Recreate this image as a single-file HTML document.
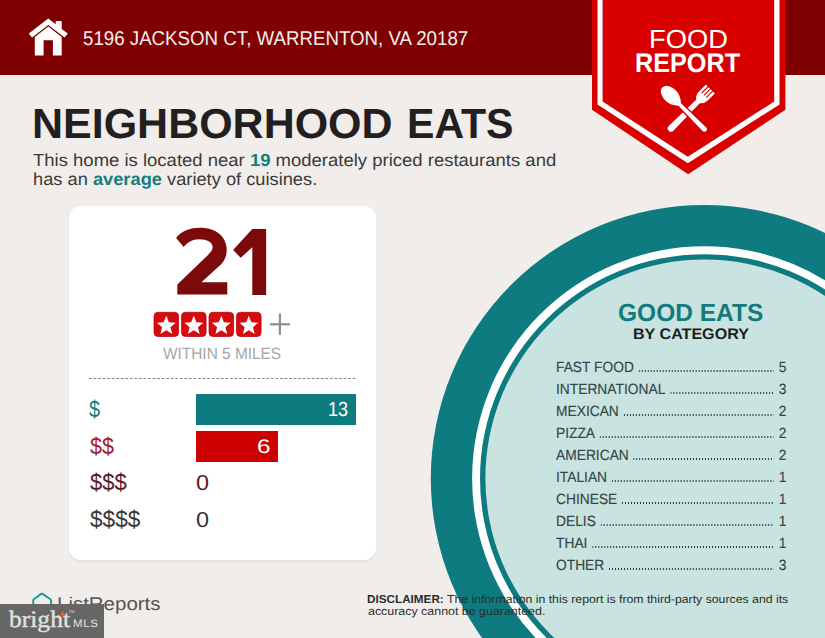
<!DOCTYPE html>
<html><head><meta charset="utf-8">
<style>
*{margin:0;padding:0;box-sizing:border-box}
html,body{width:825px;height:638px;overflow:hidden;background:#f0edea;font-family:"Liberation Sans",sans-serif;text-rendering:geometricPrecision}
.a{position:absolute;white-space:nowrap;line-height:1;transform-origin:0 0}
#hdr{position:absolute;left:0;top:0;width:825px;height:75px;background:#7f0000}
#addr{color:#f6eeee}
.tt{font-weight:bold;color:#231f20}
#para1,#para2{color:#3a3a3a}
#para1 b,#para2 b{color:#137f80}
#card{position:absolute;left:69px;top:206px;width:307px;height:354px;background:#fff;border-radius:12px;box-shadow:0 1.5px 2px rgba(0,0,0,0.05)}
.n21{font-weight:bold;color:#7d0a0a}
#within{color:#a6a6a6}
#dash{position:absolute;left:88.5px;top:378px;width:268px;height:1.2px;background:linear-gradient(to right,#858585 56%,transparent 56%);background-size:4.55px 1.2px}
.bar{position:absolute;left:196px;height:31px}
.barn{color:#fff}
#good{font-weight:bold;color:#137a7e}
#bycat{font-weight:bold;color:#1e1e1e}
.row{position:absolute;white-space:nowrap;line-height:1;transform-origin:0 0;color:#344646;display:flex;align-items:flex-start;-webkit-text-stroke:0.15px #344646}
.lead{flex:1;height:1.5px;background:linear-gradient(to right,#263838 45%,transparent 45%);background-size:3.23px 1.5px}
.dd,#disc2{color:#2d2d2d}
#food{color:#fff}
#report{color:#fff;font-weight:bold}
#lr{color:#555}
#bright{position:absolute;left:0;top:604px;width:103.5px;height:34px;background:#666}
</style></head>
<body>
<div id="hdr"></div>
<svg style="position:absolute;left:0;top:0" width="825" height="638" viewBox="0 0 825 638">
  <path fill="#fff" d="M28.8 33.6 L48.3 18.6 L55.7 24.3 L55.7 21 L61.7 21 L61.7 28.9 L67.8 33.6 L64.6 37.6 L48.3 25 L32 37.6 Z"/>
  <path fill="#fff" d="M34.8 37 L48.3 26.5 L61.7 37 L61.7 55.5 L52.9 55.5 L52.9 40.2 L43.6 40.2 L43.6 55.5 L34.8 55.5 Z"/>
  <polygon fill="#d90000" points="592,0 785.4,0 785.4,109.8 688.2,174.2 592,109.8"/>
  <polygon fill="#fff" points="597.5,0 779.5,0 779.5,104.4 687.8,163.3 597.5,104.4"/>
  <polygon fill="#d90000" points="602.6,0 774.2,0 774.2,101.6 687.8,156.7 602.6,101.6"/>
  <g transform="translate(710.3 89.05) rotate(45)" fill="#fff">
    <path d="M-6.3 0.6 Q-6.3 0 -5.7 0 L5.7 0 Q6.3 0 6.3 0.6 L6.3 9.5 Q6.3 14.5 2.5 17.5 L3.3 55.5 A3.3 3.3 0 0 1 -3.3 55.5 L-2.5 17.5 Q-6.3 14.5 -6.3 9.5 Z"/>
    <rect x="-3.75" y="-0.5" width="1.2" height="9.5" fill="#d90000"/>
    <rect x="-0.6" y="-0.5" width="1.2" height="9.5" fill="#d90000"/>
    <rect x="2.55" y="-0.5" width="1.2" height="9.5" fill="#d90000"/>
  </g>
  <g transform="translate(671.3 96.15) rotate(-45)" fill="#fff" stroke="#d90000" stroke-width="1.4">
    <path d="M0 -13.2 C5.6 -13.2 8.2 -6.2 8 0 C7.8 5.6 4.8 9.6 2.5 12.2 L3.3 46.8 A3.3 3.3 0 0 1 -3.3 46.8 L-2.5 12.2 C-4.8 9.6 -7.8 5.6 -8 0 C-8.2 -6.2 -5.6 -13.2 0 -13.2 Z"/>
  </g>
  <circle cx="704.3" cy="478.5" r="273.5" fill="#0e7b80"/>
  <circle cx="704.3" cy="478.5" r="232.2" fill="#fff"/>
  <circle cx="704.3" cy="478.5" r="224.3" fill="#0e7b80"/>
  <circle cx="704.3" cy="478.5" r="218.9" fill="#c8e3e0"/>
</svg>
<div id="addr" class="a" style="left:82.88px;top:29.20px;font-size:20.06px;transform:scaleX(0.9328)">5196 JACKSON CT, WARRENTON, VA 20187</div>
<div id="food" class="a" style="left:648.76px;top:25.87px;font-size:26.31px;transform:scaleX(1.0389)">FOOD</div>
<div id="report" class="a" style="left:635.20px;top:50.00px;font-size:27.03px;transform:scaleX(0.9332)">REPORT</div>
<div id="title" class="a tt" style="left:32.30px;top:102.56px;font-size:42.01px;transform:scaleX(1.0234)">NEIGHBORHOOD</div><div id="title2" class="a tt" style="left:406.55px;top:102.51px;font-size:42.01px;transform:scaleX(0.9781)">EATS</div>
<div id="para1" class="a" style="left:32.80px;top:152.44px;font-size:17.44px;transform:scaleX(1.0605)">This home is located near <b>19</b> moderately priced restaurants and</div>
<div id="para2" class="a" style="left:33.07px;top:170.94px;font-size:17.44px;transform:scaleX(1.0472)">has an <b>average</b> variety of cuisines.</div>
<div id="card"></div>
<svg style="position:absolute;left:0;top:0" width="825" height="638"><path fill="#7d0a0a" d="M176.1 238.1 C181 231 190 227.8 200.2 227.8 C215 227.8 226.7 236 226.7 249.9 C226.7 256 224.5 260.5 221.4 264 L201.4 282.2 L227.3 282.2 L227.3 294.6 L177.3 294.6 L177.3 284.6 L207 256 C210.5 252.5 212.6 250 212.6 247.5 C212.6 242 207 239.3 199.1 239.3 C192 239.3 187.5 242.5 183.8 247 Z"/><path fill="#7d0a0a" d="M252.3 229 L266.1 229 L266.1 295 L252.3 295 L252.3 247.3 L240.7 257.8 L233.1 250 Z"/></svg>
<svg style="position:absolute;left:0;top:0" width="825" height="638"><rect x="154.00" y="312.3" width="24.6" height="24.2" rx="4" fill="#d70a0f" stroke="#b00008" stroke-width="0.7"/><polygon fill="#fff" points="166.30,315.80 168.89,322.24 175.81,322.71 170.48,327.16 172.18,333.89 166.30,330.20 160.42,333.89 162.12,327.16 156.79,322.71 163.71,322.24"/><rect x="181.50" y="312.3" width="24.6" height="24.2" rx="4" fill="#d70a0f" stroke="#b00008" stroke-width="0.7"/><polygon fill="#fff" points="193.80,315.80 196.39,322.24 203.31,322.71 197.98,327.16 199.68,333.89 193.80,330.20 187.92,333.89 189.62,327.16 184.29,322.71 191.21,322.24"/><rect x="209.00" y="312.3" width="24.6" height="24.2" rx="4" fill="#d70a0f" stroke="#b00008" stroke-width="0.7"/><polygon fill="#fff" points="221.30,315.80 223.89,322.24 230.81,322.71 225.48,327.16 227.18,333.89 221.30,330.20 215.42,333.89 217.12,327.16 211.79,322.71 218.71,322.24"/><rect x="236.50" y="312.3" width="24.6" height="24.2" rx="4" fill="#d70a0f" stroke="#b00008" stroke-width="0.7"/><polygon fill="#fff" points="248.80,315.80 251.39,322.24 258.31,322.71 252.98,327.16 254.68,333.89 248.80,330.20 242.92,333.89 244.62,327.16 239.29,322.71 246.21,322.24"/><rect x="270" y="323.2" width="20" height="2.2" fill="#8e8e8e"/><rect x="278.8" y="313.5" width="2.2" height="21.3" fill="#8e8e8e"/></svg>
<div id="within" class="a" style="left:163.20px;top:346.36px;font-size:16.42px;transform:scaleX(0.9390)">WITHIN 5 MILES</div>
<div id="dash"></div>
<div class="bar" style="top:394px;width:160px;background:#0e7b80"></div>
<div class="bar" style="top:431px;width:82px;background:#cc0000"></div>
<div id="b13" class="a barn" style="left:328.12px;top:400.19px;font-size:20.49px;transform:scaleX(0.8796)">13</div>
<div id="b6" class="a barn" style="left:257.16px;top:437.72px;font-size:19.61px;transform:scaleX(1.2439)">6</div>
<div id="lbl1" class="a" style="left:89.35px;top:399.41px;font-size:23.60px;transform:scaleX(0.8398);color:#137f80">$</div>
<div id="lbl2" class="a" style="left:89.50px;top:435.87px;font-size:23.60px;transform:scaleX(0.9122);color:#a51d2d">$$</div>
<div id="lbl3" class="a" style="left:89.76px;top:472.02px;font-size:23.60px;transform:scaleX(0.9376);color:#5c1a24">$$$</div>
<div id="lbl4" class="a" style="left:89.82px;top:508.92px;font-size:23.60px;transform:scaleX(0.9589);color:#3a3a3a">$$$$</div>
<div id="z1" class="a" style="left:196.00px;top:472.82px;font-size:21.50px;transform:scaleX(1.0921);color:#5a1a22">0</div>
<div id="z2" class="a" style="left:195.98px;top:509.75px;font-size:21.50px;transform:scaleX(1.0911);color:#333">0</div>
<div id="good" class="a" style="left:618.16px;top:302.06px;font-size:24.85px;transform:scaleX(0.9868)">GOOD EATS</div>
<div id="bycat" class="a" style="left:633.16px;top:327.40px;font-size:15.26px;transform:scaleX(1.0548)">BY CATEGORY</div>
<div class="row" style="left:555.84px;top:360.86px;width:247.93px;font-size:14.83px;transform:scaleX(0.9299)"><span id="r0">FAST FOOD</span><span class="lead" style="margin:9.25px 5.50px 0 5.00px"></span><span id="n0">5</span></div>
<div class="row" style="left:555.84px;top:382.86px;width:247.93px;font-size:14.83px;transform:scaleX(0.9299)"><span>INTERNATIONAL</span><span class="lead" style="margin:9.25px 5.50px 0 5.00px"></span><span>3</span></div>
<div class="row" style="left:555.84px;top:404.86px;width:247.93px;font-size:14.83px;transform:scaleX(0.9299)"><span>MEXICAN</span><span class="lead" style="margin:9.25px 5.50px 0 5.00px"></span><span>2</span></div>
<div class="row" style="left:555.84px;top:426.86px;width:247.93px;font-size:14.83px;transform:scaleX(0.9299)"><span>PIZZA</span><span class="lead" style="margin:9.25px 5.50px 0 5.00px"></span><span>2</span></div>
<div class="row" style="left:555.84px;top:448.86px;width:247.93px;font-size:14.83px;transform:scaleX(0.9299)"><span>AMERICAN</span><span class="lead" style="margin:9.25px 5.50px 0 5.00px"></span><span>2</span></div>
<div class="row" style="left:555.84px;top:470.86px;width:247.93px;font-size:14.83px;transform:scaleX(0.9299)"><span>ITALIAN</span><span class="lead" style="margin:9.25px 5.50px 0 5.00px"></span><span>1</span></div>
<div class="row" style="left:555.84px;top:492.86px;width:247.93px;font-size:14.83px;transform:scaleX(0.9299)"><span>CHINESE</span><span class="lead" style="margin:9.25px 5.50px 0 5.00px"></span><span>1</span></div>
<div class="row" style="left:555.84px;top:514.86px;width:247.93px;font-size:14.83px;transform:scaleX(0.9299)"><span>DELIS</span><span class="lead" style="margin:9.25px 5.50px 0 5.00px"></span><span>1</span></div>
<div class="row" style="left:555.84px;top:536.86px;width:247.93px;font-size:14.83px;transform:scaleX(0.9299)"><span>THAI</span><span class="lead" style="margin:9.25px 5.50px 0 5.00px"></span><span>1</span></div>
<div class="row" style="left:555.84px;top:558.86px;width:247.93px;font-size:14.83px;transform:scaleX(0.9299)"><span>OTHER</span><span class="lead" style="margin:9.25px 5.50px 0 5.00px"></span><span>3</span></div>
<div id="disc1a" class="a dd" style="left:367.21px;top:595.28px;font-size:11.48px;transform:scaleX(1.0212)"><b>DISCLAIMER:</b></div><div id="disc1" class="a dd" style="left:447.48px;top:595.03px;font-size:11.48px;transform:scaleX(1.0707)">The information in this report is from third-party sources and its</div>
<div id="disc2" class="a" style="left:367.73px;top:606.93px;font-size:11.48px;transform:scaleX(1.0824)">accuracy cannot be guaranteed.</div>
<div id="lr" class="a" style="left:56.65px;top:594.92px;font-size:18.46px;transform:scaleX(1.1099)">ListReports</div>
<div id="bright"></div>
<div id="brt" class="a" style="left:8.81px;top:608.89px;font-size:23.68px;transform:scaleX(1.0786);font-family:'Liberation Serif',serif;color:#e0e0e0;-webkit-text-stroke:0.45px #e0e0e0">bright</div>
<div id="mls" class="a" style="left:72.60px;top:618.68px;font-size:10.76px;transform:scaleX(1.0628);color:#e4e4e4;letter-spacing:0.6px">MLS</div>
<svg style="position:absolute;left:0;top:0" width="825" height="638">
  <path d="M62.6 610.5 L63.6 613.6 L66.4 614.3 L63.6 615 L62.6 618 L61.6 615 L58.8 614.3 L61.6 613.6 Z" fill="#e06a2a"/>
  <text x="68.5" y="612.5" font-size="4" fill="#ddd" font-family="Liberation Sans">TM</text>
  <path d="M33.2 604 L33.2 600.6 Q33.2 599.8 33.9 599.2 L41.2 593.9 Q41.9 593.4 42.6 593.9 L50.4 599.2 Q51.1 599.7 51.1 600.6 L51.1 604" fill="none" stroke="#1f9c9c" stroke-width="2"/>
</svg>
</body></html>
